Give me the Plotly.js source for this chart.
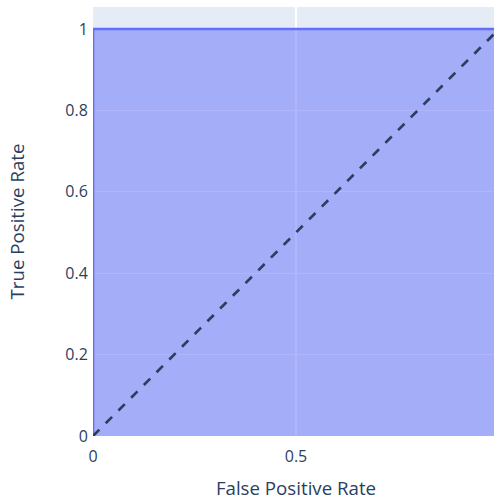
<!DOCTYPE html>
<html>
<head>
<meta charset="utf-8">
<script src="https://cdn.plot.ly/plotly-3.0.1.min.js"></script>
<style>html,body{margin:0;padding:0;overflow:hidden;background:#fff}</style>
</head>
<body>
<div id="chart" style="width:500px;height:500px"></div>
<script>
const fpr = [0, 0, 0, 1];
const tpr = [0, 0.5, 1, 1];
const diagX = [0, 1];
const diagY = [0, 1];
const xTickVals = [0, 0.5, 1];
const yTickVals = [0, 0.2, 0.4, 0.6, 0.8, 1];

const traces = [{
  x: fpr, y: tpr, type: 'scatter', mode: 'lines',
  fill: 'tozeroy', fillcolor: 'rgba(99,110,250,0.5)',
  line: {color: '#636efa', width: 2.67}, hoverinfo: 'x+y', showlegend: false
}];

const layout = {
  width: 500, height: 500,
  margin: {l: 93, r: 1, t: 7, b: 64},
  paper_bgcolor: '#fff', plot_bgcolor: '#E5ECF6',
  font: {family: '"Open Sans", verdana, arial, sans-serif', size: 16, color: '#2a3f5f'},
  xaxis: {
    range: [0, 1], tickvals: xTickVals, ticktext: ['0', '0.5', '1'],
    gridcolor: '#fff', gridwidth: 1.33, zeroline: false, showline: false, automargin: false,
    ticks: 'outside', ticklen: 6, tickcolor: 'rgba(0,0,0,0)',
    tickfont: {size: 16},
    title: {text: 'False Positive Rate', font: {size: 18.7}, standoff: 18}
  },
  yaxis: {
    range: [0, 1.054], tickvals: yTickVals, ticktext: ['0', '0.2', '0.4', '0.6', '0.8', '1'],
    gridcolor: '#fff', gridwidth: 1.33, zeroline: false, showline: false, automargin: false,
    ticks: 'outside', ticklen: 1, tickcolor: 'rgba(0,0,0,0)',
    tickfont: {size: 16},
    title: {text: 'True Positive Rate', font: {size: 18.7}, standoff: 35}
  },
  shapes: [{
    type: 'line', xref: 'x', yref: 'y',
    x0: diagX[0], x1: diagX[1], y0: diagY[0], y1: diagY[1],
    line: {color: '#2a3f5f', width: 2.67, dash: 'dash'}
  }]
};

Plotly.newPlot('chart', traces, layout, {displayModeBar: false, staticPlot: true});
</script>
</body>
</html>
